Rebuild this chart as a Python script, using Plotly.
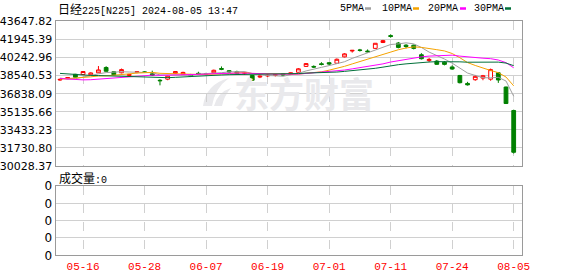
import plotly.graph_objects as go
import pandas as pd

W, H = 578, 276

dates = ["05-13","05-14","05-15","05-16","05-17","05-20","05-21","05-22","05-23","05-24",
         "05-27","05-28","05-29","05-30","05-31","06-03","06-04","06-05","06-06","06-07",
         "06-10","06-11","06-12","06-13","06-14","06-17","06-18","06-19","06-20","06-21",
         "06-24","06-25","06-26","06-27","06-28","07-01","07-02","07-03","07-04","07-05",
         "07-08","07-09","07-10","07-11","07-12","07-16","07-17","07-18","07-19","07-22",
         "07-23","07-24","07-25","07-26","07-29","07-30","07-31","08-01","08-02","08-05"]

opens = [38120,38250,38660,38640,38600,38800,39300,38900,38800,38550,
         38850,38880,38700,38100,38200,38750,38680,38600,38750,38700,
         38800,39200,39000,38900,38750,38550,38400,38500,38550,38700,
         38650,38850,39400,39400,39650,39750,39700,40300,40850,40950,
         40850,41100,41650,42300,41600,41400,41400,40500,39950,39900,
         39800,39350,38550,37800,38150,38300,38200,38800,37460,35250]
highs = [38260,38400,38700,38950,38850,39437,39420,38950,39200,38700,
         38950,38950,39000,38200,38550,38950,38900,38700,38900,38800,
         39100,39400,39050,39000,38900,38600,38550,38650,38700,38750,
         38850,39250,39700,39500,39800,39800,40150,40650,40950,41050,
         41000,41600,41900,42427,41700,41500,41450,40650,40200,40000,
         39900,39500,38600,37950,38600,38600,39200,38850,37500,35330]
lows = [38050,38200,38330,38600,38550,38780,38900,38580,38750,38450,
        38750,38780,38500,37620,38100,38700,38600,38400,38600,38550,
        38750,39050,38800,38650,38600,38050,38300,38400,38450,38500,
        38600,38800,39350,39250,39500,39500,39650,40250,40700,40800,
        40700,41050,41600,42100,41100,41100,41000,40050,39800,39550,
        39500,39080,37800,37600,38050,38100,38050,37850,35880,31200]
closes = [38179,38356,38385,38920,38787,39069,38946,38617,39103,38646,
          38900,38855,38556,38054,38487,38923,38837,38490,38703,38683,
          39038,39134,38876,38720,38814,38102,38482,38570,38633,38596,
          38804,39173,39667,39341,39583,39631,40074,40580,40913,40912,
          40780,41580,41831,42224,41190,41275,41097,40126,40063,39599,
          39594,39154,37869,37667,38468,38525,39101,38126,35909,31320]

# closes of the 29 sessions before the first candle (needed for the moving averages)
prior_closes = [40168,40369,39803,39838,39451,39773,38992,39347,39773,39581,
                39442,39523,39232,38471,37961,38079,37068,37438,37552,38460,
                37628,37934,38405,38274,38236,38835,38202,38073,38229]

ma_periods = [5, 10, 20, 30]
ma_names = ["5PMA", "10PMA", "20PMA", "30PMA"]
ma_colors = ["#a0a0a0", "#f5a300", "#ff00ff", "#00703a"]

y_ticks = [30028.37, 31730.80, 33433.23, 35135.66, 36838.09, 38540.53, 40242.96, 41945.39, 43647.82]
x_tick_labels = ["05-16", "05-28", "06-07", "06-19", "07-01", "07-11", "07-24", "08-05"]

idx = list(range(len(dates)))
tick_idx = [dates.index(d) for d in x_tick_labels]

allc = pd.Series(prior_closes + closes, dtype=float)
n_prior = len(prior_closes)

fig = go.Figure()

for p, name, col in zip(ma_periods, ma_names, ma_colors):
    ma = allc.rolling(p).mean().iloc[n_prior:].tolist()
    fig.add_trace(go.Scatter(x=idx, y=ma, mode="lines", name=name,
                             line=dict(color=col, width=1), xaxis="x", yaxis="y",
                             hoverinfo="skip"))

fig.add_trace(go.Candlestick(
    x=idx, open=opens, high=highs, low=lows, close=closes,
    increasing=dict(line=dict(color="#ff0000", width=1), fillcolor="#ffffff"),
    decreasing=dict(line=dict(color="#008000", width=1), fillcolor="#008000"),
    whiskerwidth=0, xaxis="x", yaxis="y", name="N225"))

# empty volume panel (volume is 0)
fig.add_trace(go.Scatter(x=[idx[0]], y=[0], mode="markers", marker=dict(opacity=0),
                         xaxis="x2", yaxis="y2", hoverinfo="skip"))

def px(x):
    return x / W

def py(y):
    return 1 - y / H

xdom = [px(55.5), px(522)]
xrange = [-0.585, 60.08]
grid = "#d0d0d0"
border = "#9a9a9a"

fig.update_layout(
    width=W, height=H, margin=dict(l=0, r=0, t=0, b=0),
    paper_bgcolor="white", plot_bgcolor="white", showlegend=False,
    xaxis=dict(domain=xdom, range=xrange, tickvals=tick_idx, showticklabels=False,
               showgrid=True, gridcolor=grid, griddash="dash", gridwidth=1,
               zeroline=False, showline=True, mirror=True, linecolor=border, linewidth=1,
               ticks="", rangeslider=dict(visible=False), anchor="y", automargin=False),
    yaxis=dict(domain=[py(166), py(21.3)], range=[y_ticks[0], y_ticks[-1]],
               tickvals=y_ticks, ticktext=[f"{v:.2f}" for v in y_ticks],
               showgrid=True, gridcolor=grid, gridwidth=1, zeroline=False,
               showline=True, mirror=True, linecolor=border, linewidth=1, ticks="",
               tickfont=dict(family="DejaVu Sans", size=11, color="#000000"),
               anchor="x", automargin=False),
    xaxis2=dict(domain=xdom, range=xrange, tickvals=tick_idx, ticktext=x_tick_labels,
                showgrid=True, gridcolor=grid, griddash="dash", gridwidth=1,
                zeroline=False, showline=True, mirror=True, linecolor=border, linewidth=1,
                ticks="", tickfont=dict(family="Liberation Mono", size=11, color="#ff0000"),
                anchor="y2", automargin=False),
    yaxis2=dict(domain=[py(255.3), py(186)], range=[0, 4], tickvals=[0, 1, 2, 3, 4],
                ticktext=["0"] * 5, showgrid=True, gridcolor=grid, gridwidth=1,
                zeroline=False, showline=True, mirror=True, linecolor=border, linewidth=1,
                ticks="", tickfont=dict(family="DejaVu Sans", size=12, color="#000000"),
                anchor="x2", automargin=False),
)

ann = []
ann.append(dict(xref="paper", yref="paper", x=px(56), y=py(8.5), xanchor="left", yanchor="middle",
                text='<span style="font-family:Noto Sans CJK SC;font-size:12px">日经</span>225[N225] 2024-08-05 13:47',
                showarrow=False, font=dict(family="Liberation Mono", size=10, color="#000000")))
ann.append(dict(xref="paper", yref="paper", x=px(57), y=py(177.5), xanchor="left", yanchor="middle",
                text='<span style="font-family:Noto Sans CJK SC;font-size:12px">成交量</span>:0',
                showarrow=False, font=dict(family="Liberation Mono", size=10, color="#000000")))
# legend
leg_x = [338, 380, 426, 472]
dash_x = [365, 413, 460, 505]
shapes = []
for name, col, lx, dx in zip(ma_names, ma_colors, leg_x, dash_x):
    ann.append(dict(xref="paper", yref="paper", x=px(lx), y=py(8.5), xanchor="left", yanchor="middle",
                    text=name, showarrow=False,
                    font=dict(family="Liberation Mono", size=10, color="#000000")))
    shapes.append(dict(type="line", xref="paper", yref="paper", x0=px(dx), x1=px(dx + 6),
                       y0=py(8.5), y1=py(8.5), line=dict(color=col, width=2.5)))
# watermark
ann.append(dict(xref="paper", yref="paper", x=px(232), y=py(93), xanchor="left", yanchor="middle",
                text="<b>东方财富</b>", showarrow=False,
                font=dict(family="Noto Sans CJK SC", size=35, color="#e9e9ec")))
shapes.append(dict(type="path", xref="paper", yref="paper", layer="below",
                   path=f"M {px(203)} {py(106)} Q {px(206)} {py(84)} {px(229)} {py(78)} "
                        f"Q {px(215)} {py(88)} {px(212)} {py(106)} Z",
                   fillcolor="#e9e9ec", line=dict(width=0)))
shapes.append(dict(type="path", xref="paper", yref="paper", layer="below",
                   path=f"M {px(214)} {py(106)} Q {px(218)} {py(92)} {px(231)} {py(88)} "
                        f"Q {px(224)} {py(96)} {px(222)} {py(106)} Z",
                   fillcolor="#e9e9ec", line=dict(width=0)))

fig.update_layout(annotations=ann, shapes=shapes)
fig.write_html("out.html")
